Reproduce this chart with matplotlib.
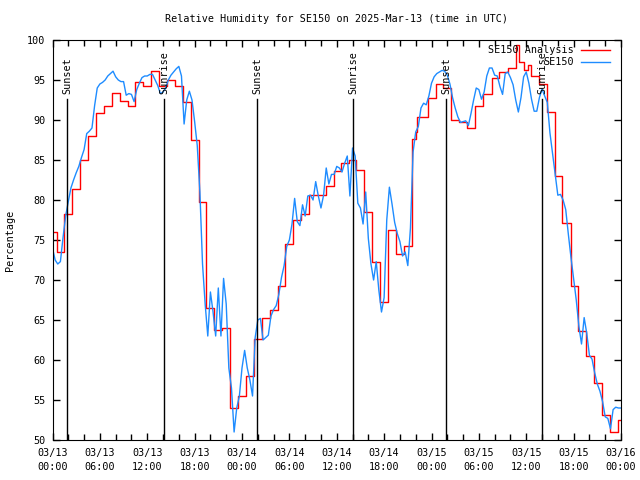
import numpy as np
import pandas as pd
import matplotlib
matplotlib.use("Agg")
import matplotlib.pyplot as plt
import matplotlib.dates as mdates

plt.rcParams['font.family'] = ['DejaVu Sans Mono']
plt.rcParams['font.size'] = 7.3

start = pd.Timestamp("2025-03-13 00:00")

# analysis (step) : change times in hours after start, value held until next change
red_hours = [0.0, 0.61, 1.5, 2.5, 3.5, 4.5, 5.5, 6.5, 7.5, 8.5, 9.5, 10.5, 11.5, 12.5,
             13.5, 14.5, 15.5, 16.5, 17.5, 18.5, 19.5, 20.5, 21.5, 22.5, 23.5, 24.5,
             25.5, 26.5, 27.5, 28.5, 29.5, 30.5, 31.5, 32.5, 34.6, 35.6, 36.5, 37.5,
             38.5, 39.5, 40.5, 41.5, 42.5, 43.5, 44.5, 45.5, 46.0, 46.2, 47.5, 48.6,
             49.5, 50.5, 51.5, 52.5, 53.5, 54.5, 55.6, 56.6, 57.7, 58.7, 59.12, 59.71,
             60.22, 60.56, 61.6, 62.59, 63.64, 64.56, 65.63, 66.59, 67.53, 68.58,
             69.63, 70.61, 71.58, 72.0]
red_values = [76.0, 73.5, 78.2, 81.4, 85.0, 88.0, 90.9, 91.8, 93.4, 92.4, 91.7, 94.8,
              94.3, 96.1, 94.3, 95.0, 94.3, 92.2, 87.5, 79.8, 66.5, 63.7, 64.0, 54.0,
              55.5, 58.0, 62.6, 65.2, 66.3, 69.2, 74.5, 77.5, 78.2, 80.6, 81.8, 83.6,
              84.6, 85.0, 83.7, 78.5, 72.3, 67.2, 76.3, 73.3, 74.3, 87.6, 88.5, 90.4,
              92.8, 94.5, 94.0, 90.0, 89.7, 89.0, 91.8, 93.3, 95.2, 96.0, 96.5, 99.4,
              97.3, 96.2, 96.9, 95.5, 94.5, 91.0, 83.0, 77.1, 69.3, 63.6, 60.5, 57.1,
              53.1, 51.0, 52.5, 52.5]

# station observations, every 20 minutes from 03/13 00:00 to 03/16 00:00
blue_values = [
    74.0,
    72.5, 72.0, 72.3, 75.3, 78.0, 79.8, 81.5, 82.5, 83.4, 84.2, 85.3, 86.3, 88.3, 88.6, 89.0, 91.8, 94.0, 94.5,
    94.7, 95.0, 95.5, 95.8, 96.1, 95.4, 95.0, 94.8, 94.8, 93.1, 93.3, 93.2, 92.3, 93.8, 94.6, 95.3, 95.5, 95.5,
    95.7, 95.7, 95.0, 94.3, 93.3, 93.5, 94.0, 95.0, 95.6, 96.0, 96.4, 96.7, 95.5, 89.5, 92.5, 93.6, 92.5, 89.8,
    86.8, 81.0, 72.0, 67.0, 63.0, 68.5, 66.0, 63.0, 69.0, 63.0, 70.2, 67.0, 59.0, 56.5, 51.0, 54.0, 55.5, 59.0,
    61.2, 59.0, 57.5, 55.5, 62.8, 65.0, 65.2, 62.5, 62.8, 63.1, 65.5, 66.3, 66.8, 68.2, 70.3, 71.8, 74.2, 75.0,
    77.0, 80.2, 77.3, 76.8, 79.4, 78.0, 80.5, 80.6, 80.0, 82.3, 80.5, 79.0, 80.6, 84.0, 82.0, 83.2, 83.2, 84.2,
    84.0, 83.5, 84.6, 85.5, 80.5, 86.5, 85.5, 79.6, 79.0, 77.0, 81.0, 75.2, 72.0, 70.0, 72.3, 68.7, 66.0, 67.8,
    77.5, 81.6, 79.5, 77.2, 75.8, 74.8, 73.0, 73.5, 71.8, 76.5, 86.0, 88.5, 89.2, 91.5, 92.1, 91.9, 93.0, 94.6,
    95.4, 95.8, 96.0, 96.2, 96.1, 95.6, 94.5, 92.8, 91.5, 90.4, 89.7, 89.8, 89.9, 89.3, 90.8, 92.5, 94.0, 93.8,
    92.6, 93.5, 95.5, 96.5, 96.5, 95.6, 95.5, 94.2, 93.2, 95.8, 96.0, 95.3, 94.4, 92.5, 91.0, 92.8, 95.4, 96.0,
    94.6, 92.6, 91.1, 91.1, 92.8, 93.9, 93.0, 92.2, 88.4, 85.8, 83.3, 80.6, 80.7, 80.0, 78.8, 75.7, 72.8, 70.2,
    67.5, 64.2, 62.0, 65.3, 63.3, 60.6, 60.1, 58.4, 57.0, 56.1, 54.8, 52.9, 52.7, 51.4, 53.8, 54.1, 54.0, 54.0,
]

# sun events, hours after start
sun_hours = [1.88, 14.15, 25.93, 38.08, 49.83, 62.02]
sun_labels = ["Sunset", "Sunrise", "Sunset", "Sunrise", "Sunset", "Sunrise"]

red_t = start + pd.to_timedelta(red_hours, unit="h")
blue_t = pd.date_range(start, periods=len(blue_values), freq="20min")
sun_t = start + pd.to_timedelta(sun_hours, unit="h")

fig = plt.figure(figsize=(6.4, 4.8), dpi=100)
ax = fig.add_axes([52.5 / 640, 40 / 480, 568.5 / 640, 400 / 480])

ax.step(red_t, red_values, where="post", color="#ff0000", lw=1.0)
ax.plot(blue_t, blue_values, color="#1e8cff", lw=1.0)

for t, lbl in zip(sun_t, sun_labels):
    ax.plot([t, t], [50, 92.6], color="black", lw=1.0)
    ax.text(t, 93.3, lbl, rotation=90, ha="center", va="bottom")

ax.set_xlim(start, start + pd.Timedelta(hours=72))
ax.set_ylim(50, 100)
ax.set_yticks(np.arange(50, 101, 5))
ax.xaxis.set_major_locator(mdates.HourLocator(byhour=[0, 6, 12, 18]))
ax.xaxis.set_major_formatter(mdates.DateFormatter("%m/%d\n%H:%M"))
ax.xaxis.set_minor_locator(mdates.HourLocator(byhour=range(0, 24, 2)))

ax.tick_params(which="both", direction="in", top=True, right=True, width=1)
ax.tick_params(which="major", length=5)
ax.tick_params(which="minor", length=4)
ax.tick_params(axis="x", pad=6)
ax.tick_params(axis="y", pad=5)
for tk in ax.xaxis.get_major_ticks():
    tk.label1.set_linespacing(1.45)

ax.set_ylabel("Percentage", labelpad=9)
ax.set_title("Relative Humidity for SE150 on 2025-Mar-13 (time in UTC)",
             fontsize=7.3, pad=13)

# gnuplot style key, text right aligned, sample after
key = [("SE150 Analysis", "#ff0000", 0.975), ("SE150", "#1e8cff", 0.945)]
for name, col, yy in key:
    ax.text(0.917, yy, name, transform=ax.transAxes, ha="right", va="center")
    ax.plot([0.9296, 0.9807], [yy, yy], transform=ax.transAxes, color=col, lw=1.0)

fig.savefig("out.png", dpi=100)
